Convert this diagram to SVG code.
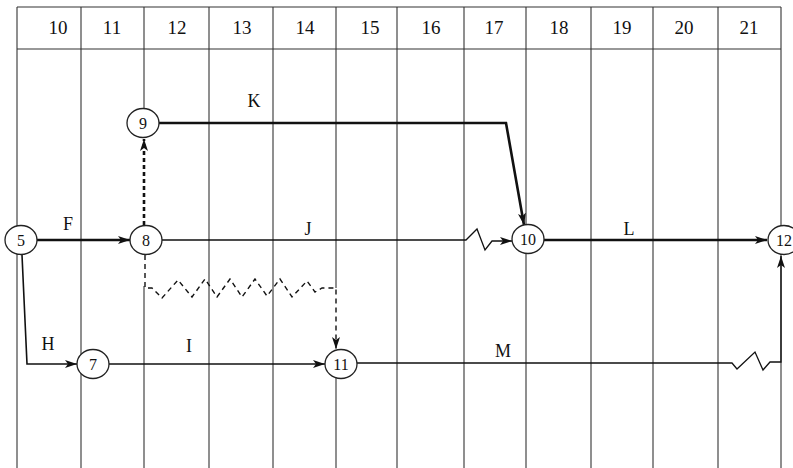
<svg xmlns="http://www.w3.org/2000/svg" width="793" height="468" viewBox="0 0 793 468">
<style>
.grid{stroke:#333;stroke-width:1.1;fill:none}
.hdr{font-family:"Liberation Serif",serif;font-size:19px;fill:#111;text-anchor:middle}
.node ellipse{fill:#fff;stroke:#222;stroke-width:1.3}
.node text{font-family:"Liberation Serif",serif;font-size:16px;fill:#111;text-anchor:middle}
.lbl{font-family:"Liberation Serif",serif;font-size:18px;fill:#111;text-anchor:middle}
.thick{stroke:#111;stroke-width:2.6;fill:none}
.thin{stroke:#111;stroke-width:1.3;fill:none}
.dot{stroke:#111;stroke-width:2.6;fill:none;stroke-dasharray:4 3}
.dash{stroke:#111;stroke-width:1.4;fill:none;stroke-dasharray:5 4}
</style>
<defs>
<marker id="ah" viewBox="0 0 12 8" refX="12" refY="4" markerWidth="12" markerHeight="8" markerUnits="userSpaceOnUse" orient="auto">
<path d="M0,0 L12,4 L0,8 L3,4 Z" fill="#111"/>
</marker>
</defs>
<rect width="793" height="468" fill="#fff"/>
<g id="grid">
<line class="grid" x1="17" y1="7" x2="781" y2="7"/>
<line class="grid" x1="17" y1="49" x2="781" y2="49"/>
<line class="grid" x1="17" y1="7" x2="17" y2="468"/>
<line class="grid" x1="81" y1="7" x2="81" y2="468"/>
<line class="grid" x1="144" y1="7" x2="144" y2="138"/>
<line class="grid" x1="144" y1="286" x2="144" y2="468"/>
<line class="grid" x1="209" y1="7" x2="209" y2="468"/>
<line class="grid" x1="273" y1="7" x2="273" y2="468"/>
<line class="grid" x1="336" y1="7" x2="336" y2="288"/>
<line class="grid" x1="336" y1="364" x2="336" y2="468"/>
<line class="grid" x1="397" y1="7" x2="397" y2="468"/>
<line class="grid" x1="464" y1="7" x2="464" y2="468"/>
<line class="grid" x1="526" y1="7" x2="526" y2="468"/>
<line class="grid" x1="591" y1="7" x2="591" y2="468"/>
<line class="grid" x1="653" y1="7" x2="653" y2="468"/>
<line class="grid" x1="718" y1="7" x2="718" y2="468"/>
<line class="grid" x1="781" y1="7" x2="781" y2="468"/>
<text class="hdr" x="58" y="34">10</text>
<text class="hdr" x="112" y="34">11</text>
<text class="hdr" x="177" y="34">12</text>
<text class="hdr" x="242" y="34">13</text>
<text class="hdr" x="305" y="34">14</text>
<text class="hdr" x="370" y="34">15</text>
<text class="hdr" x="431" y="34">16</text>
<text class="hdr" x="494" y="34">17</text>
<text class="hdr" x="559" y="34">18</text>
<text class="hdr" x="622" y="34">19</text>
<text class="hdr" x="684" y="34">20</text>
<text class="hdr" x="749" y="34">21</text>
</g>
<g id="connectors">
<path class="thick" d="M37,240 L130,240" marker-end="url(#ah)"/>
<path class="dot" d="M144,225 L144,139" marker-end="url(#ah)"/>
<path class="thick" d="M159,123 L506,123 L524,225" marker-end="url(#ah)"/>
<path class="thin" d="M162,240 L466,240 L477,229 L485,250 L492,241 L512,241" marker-end="url(#ah)"/>
<path class="thick" d="M544,240 L767,240" marker-end="url(#ah)"/>
<path class="thin" style="stroke-width:1.6" d="M22,255 L27,364 L77,364" marker-end="url(#ah)"/>
<path class="thin" d="M109,364 L325,364" marker-end="url(#ah)"/>
<path class="thin" d="M357,363 L732,363 L737,369 L755,352 L763,370 L770,362 L781,362 L781,256" marker-end="url(#ah)"/>
<path class="dash" d="M145,255 L145,288 L152,288 L162,298 L178,280 L192,297 L205,279 L217,297 L230,279 L242,297 L255,279 L267,296 L280,279 L292,297 L307,281 L315,292 L322,288 L336,288 L336,349" marker-end="url(#ah)"/>
<text class="lbl" x="68" y="230">F</text>
<text class="lbl" x="254" y="107">K</text>
<text class="lbl" x="308" y="235">J</text>
<text class="lbl" x="629" y="235">L</text>
<text class="lbl" x="48" y="350">H</text>
<text class="lbl" x="189" y="352">I</text>
<text class="lbl" x="503" y="357">M</text>
</g>
<g id="n5" class="node"><ellipse cx="21" cy="240" rx="16" ry="14.5"/><text x="21" y="245.5">5</text></g>
<g id="n8" class="node"><ellipse cx="146" cy="240" rx="16" ry="14.5"/><text x="146" y="245.5">8</text></g>
<g id="n9" class="node"><ellipse cx="143" cy="123" rx="16" ry="14.5"/><text x="143" y="128.5">9</text></g>
<g id="n10" class="node"><ellipse cx="528" cy="239" rx="16" ry="14.5"/><text x="528" y="244.5">10</text></g>
<g id="n12" class="node"><ellipse cx="784" cy="240" rx="16" ry="14.5"/><text x="784" y="245.5">12</text></g>
<g id="n7" class="node"><ellipse cx="93" cy="364" rx="16" ry="14.5"/><text x="93" y="369.5">7</text></g>
<g id="n11" class="node"><ellipse cx="341" cy="364" rx="16" ry="14.5"/><text x="341" y="369.5">11</text></g>
</svg>
